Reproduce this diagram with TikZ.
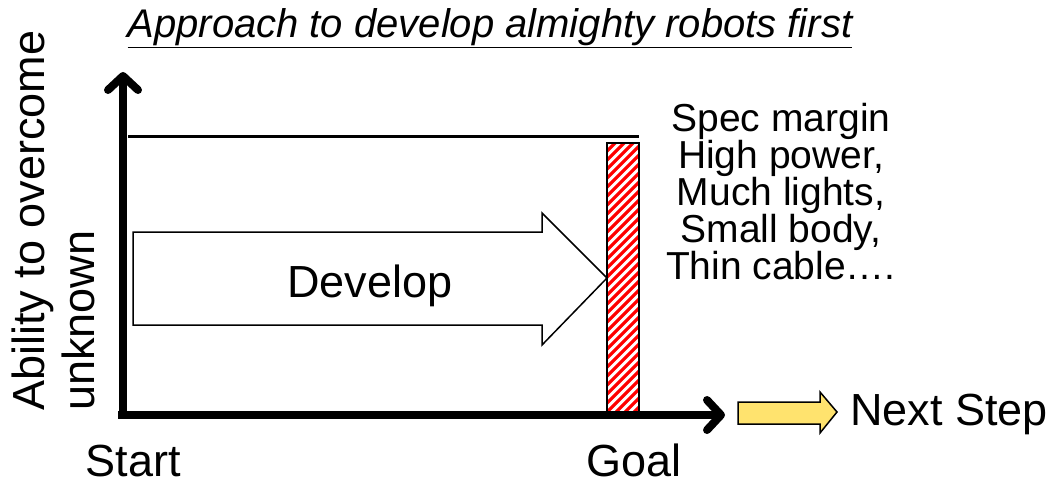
\documentclass[tikz,border=0pt]{standalone}
\usepackage{fontspec}
\setmainfont{Liberation Sans}
\usetikzlibrary{arrows.meta}
\definecolor{nextyellow}{HTML}{FFE36E}
\tikzset{
  lbl/.style={font=\fontsize{45}{50}\selectfont, inner sep=0pt},
  axis/.style={line width=8pt, -{Straight Barb[length=14pt,width=30pt,round]}},
  stripe/.style={red, line width=3.2pt}
}
\begin{document}
\begin{tikzpicture}[x=1pt,y=-1pt]
  \useasboundingbox (0,0) rectangle (1051,485);
  \node[lbl, font=\itshape\fontsize{40}{46}\selectfont, anchor=base] (title) at (490,37) {\underline{Approach to develop almighty robots first}};
  \node[lbl, rotate=90, align=left, anchor=north west] (ylabel) at (12,411) {Ability to overcome\\unknown};
  \coordinate (origin) at (123,415);
  \coordinate (ytop) at (123,72);
  \coordinate (xend) at (725,415);
  \draw[line width=3pt] (128,136) -- (639,136);
  \begin{scope}
    \clip (607,143) rectangle (639,413);
    \foreach \k in {0,...,36}
      \draw[stripe] (600,140+9*\k) -- ++(50,-50);
  \end{scope}
  \draw[line width=1.5pt] (607,143) rectangle (639,413);
  \draw[axis] (123,419) -- (ytop);
  \draw[axis] (118,415) -- (xend);
  \draw[line width=1.5pt, fill=white] (133,232) -- (542,232) -- (542,213) -- (607,278) -- (542,345) -- (542,325) -- (133,325) -- cycle;
  \node[lbl, anchor=base] (develop) at (370,297) {Develop};
  \node[lbl, font=\fontsize{39}{37}\selectfont, align=center, anchor=north] (spec) at (781,103) {Spec margin\\High power,\\Much lights,\\Small body,\\Thin cable\dots.};
  \node[lbl, anchor=base] (start) at (133,476) {Start};
  \node[lbl, anchor=base] (goal) at (634,476) {Goal};
  \draw[line width=1.5pt, fill=nextyellow] (738,402) -- (820,402) -- (820,392) -- (837,412) -- (820,433) -- (820,424) -- (738,424) -- cycle;
  \node[lbl, anchor=base west] (next) at (850,425) {Next Step};
\end{tikzpicture}
\end{document}
